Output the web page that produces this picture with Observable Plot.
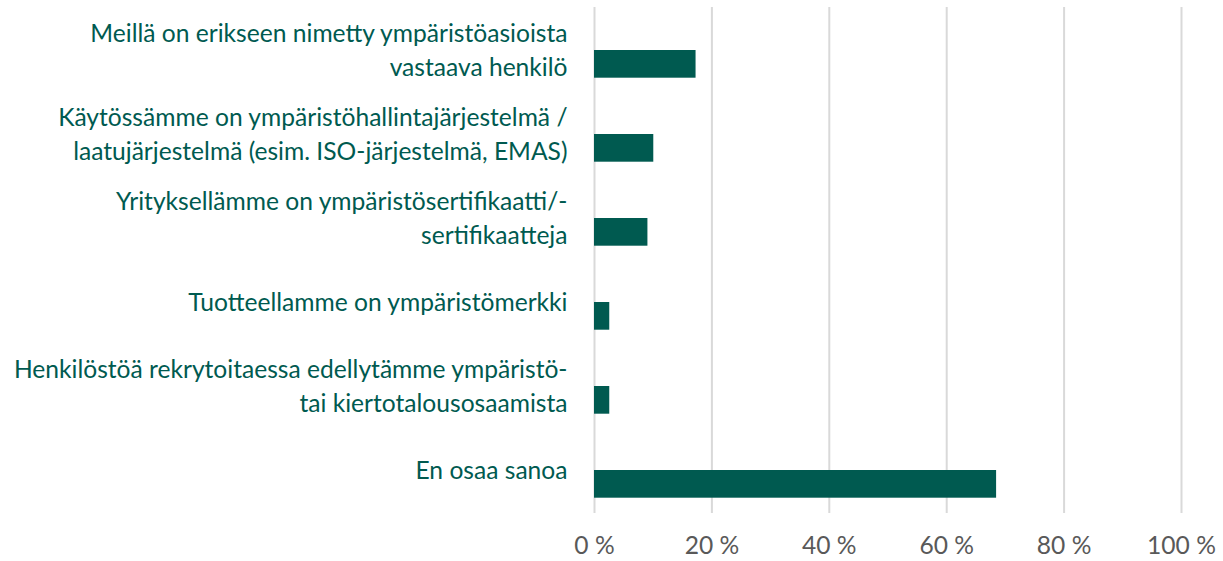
<!DOCTYPE html>
<html>
<head>
<meta charset="utf-8">
<script src="https://cdn.jsdelivr.net/npm/d3@7"></script>
<script src="https://cdn.jsdelivr.net/npm/@observablehq/plot@0.6"></script>
<style>
  html, body { margin: 0; padding: 0; background: #fff; }
</style>
</head>
<body>
<div id="chart"></div>
<script>
const categories = [
  "Meillä on erikseen nimetty ympäristöasioista\nvastaava henkilö",
  "Käytössämme on ympäristöhallintajärjestelmä /\nlaatujärjestelmä (esim. ISO-järjestelmä, EMAS)",
  "Yrityksellämme on ympäristösertifikaatti/-\nsertifikaatteja",
  "Tuotteellamme on ympäristömerkki",
  "Henkilöstöä rekrytoitaessa edellytämme ympäristö-\ntai kiertotalousosaamista",
  "En osaa sanoa"
];
const values = [17.3, 10.1, 9.1, 2.6, 2.6, 68.5];
const xTicks = [0, 20, 40, 60, 80, 100];

const data = categories.map((c, i) => ({category: c, value: values[i]}));
const fontSize = 24.6;

const chart = Plot.plot({
  width: 1223,
  height: 561,
  marginLeft: 594,
  marginRight: 42,
  marginTop: 7,
  marginBottom: 48,
  style: {fontFamily: "Lato, 'Open Sans', sans-serif", background: "#fff"},
  x: {domain: [0, 100]},
  y: {domain: categories, padding: 0},
  marks: [
    Plot.gridX(xTicks, {stroke: "#d9d9d9", strokeOpacity: 1, strokeWidth: 2}),
    Plot.barX(data, {
      x: "value", y: "category", fill: "#005a50",
      insetTop: 42, insetBottom: 14.3
    }),
    Plot.axisX({
      ticks: xTicks, tickFormat: d => d + " %", tickSize: 0, tickPadding: 23,
      fontSize: fontSize, fill: "#595959", label: null
    }),
    Plot.axisY({
      tickSize: 0, tickPadding: 27, fontSize: fontSize, fill: "#005a50",
      lineHeight: 34 / fontSize, label: null, textOverflow: null, lineWidth: Infinity,
      dy: -2
    })
  ]
});
document.getElementById("chart").appendChild(chart);
</script>
</body>
</html>
